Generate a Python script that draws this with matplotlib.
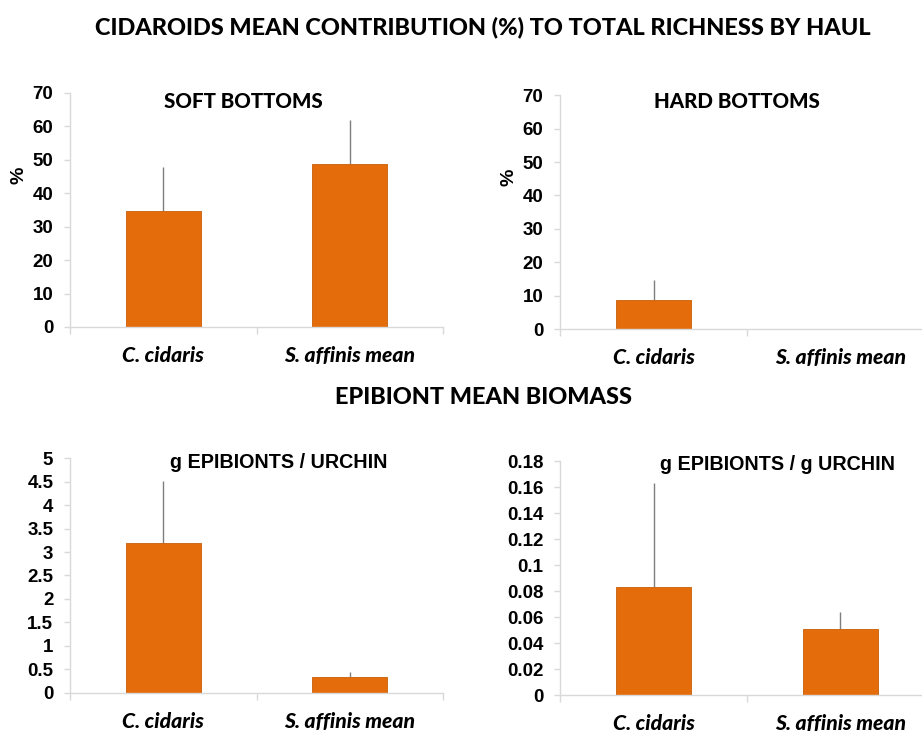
import matplotlib
matplotlib.use("Agg")
from matplotlib import pyplot as plt

# Species on the x axis of every panel
species = ["C. cidaris", "S. affinis mean"]

# Richness contribution (%) by haul, mean and upper error
soft_mean = [34.7, 48.7]
soft_err = [13.2, 13.3]
hard_mean = [8.8, 0.0]
hard_err = [5.8, 0.0]

# Epibiont biomass
urchin_mean = [3.19, 0.34]
urchin_err = [1.33, 0.095]
ratio_mean = [0.083, 0.051]
ratio_err = [0.080, 0.013]

BAR_COLOR = "#E46C0A"
AXIS_COLOR = "#d9d9d9"
ERR_COLOR = "#7f7f7f"
HEAVY = 900  # Lato Black where available

fig = plt.figure(figsize=(9.22, 7.31), dpi=100)


def panel(rect, means, errs, ymax, ystep, title, title_xy, ylabel=None, fmt=None):
    ax = fig.add_axes(rect)
    x = list(range(len(species)))
    ax.bar(x, means, width=0.4, color=BAR_COLOR, edgecolor="#c85e08", linewidth=0.6, zorder=2)
    # Error bars only go upward, no caps
    ax.errorbar(x, means, yerr=[[0] * len(errs), errs], fmt="none",
                ecolor=ERR_COLOR, elinewidth=1, capsize=0, zorder=1)
    ax.set_xlim(-0.5, 1.5)
    ax.set_ylim(0, ymax)
    n = int(round(ymax / ystep))
    ticks = [i * ystep for i in range(n + 1)]
    ax.set_yticks(ticks)
    if fmt:
        ax.set_yticklabels([fmt(t) for t in ticks])
    for lab in ax.get_yticklabels():
        lab.set_fontfamily("Liberation Sans")
        lab.set_fontweight("bold")
        lab.set_fontsize(13.5)
    ax.tick_params(axis="y", direction="out", length=4, width=1, color=AXIS_COLOR, pad=8)

    ax.set_xticks(x)
    ax.set_xticklabels(species, fontfamily="Lato", fontweight=HEAVY, fontstyle="italic", fontsize=15.2)
    ax.tick_params(axis="x", which="major", length=0, pad=14)
    ax.set_xticks([-0.5, 0.5, 1.5], minor=True)
    ax.tick_params(axis="x", which="minor", direction="out", length=5, width=1, color=AXIS_COLOR)

    for side in ["top", "right"]:
        ax.spines[side].set_visible(False)
    for side in ["left", "bottom"]:
        ax.spines[side].set_color(AXIS_COLOR)
        ax.spines[side].set_linewidth(1)

    fig.text(title_xy[0] / 922, 1 - title_xy[1] / 731, title, ha="center", va="center",
             fontfamily=title_xy[2], fontweight=title_xy[4], fontsize=title_xy[3])
    if ylabel:
        fig.text(rect[0] - 0.055, rect[1] + rect[3] * 0.65, ylabel, rotation=90,
                 ha="center", va="center", fontfamily="Liberation Sans",
                 fontweight="bold", fontsize=14)
    return ax


def plain(v):
    s = ("%.2f" % v).rstrip("0").rstrip(".")
    return s if s else "0"


panel([0.0759, 0.5527, 0.4046, 0.3201], soft_mean, soft_err, 70, 10,
      "SOFT BOTTOMS", (243, 101, "Lato", 14.8, HEAVY), ylabel="%")
panel([0.6074, 0.5499, 0.4056, 0.3197], hard_mean, hard_err, 70, 10,
      "HARD BOTTOMS", (737, 102, "Lato", 14.8, HEAVY), ylabel="%")
panel([0.0759, 0.0524, 0.4046, 0.3207], urchin_mean, urchin_err, 5, 0.5,
      "g EPIBIONTS / URCHIN", (279, 463, "Liberation Sans", 14.2, "bold"), fmt=plain)
panel([0.6074, 0.0492, 0.4056, 0.3201], ratio_mean, ratio_err, 0.18, 0.02,
      "g EPIBIONTS / g URCHIN", (777, 465, "Liberation Sans", 14.2, "bold"), fmt=plain)

fig.text(483 / 922, 1 - 27 / 731, "CIDAROIDS MEAN CONTRIBUTION (%) TO TOTAL RICHNESS BY HAUL",
         ha="center", va="center", fontfamily="Lato", fontweight=HEAVY, fontsize=16.9)
fig.text(483 / 922, 1 - 397 / 731, "EPIBIONT MEAN BIOMASS",
         ha="center", va="center", fontfamily="Lato", fontweight=HEAVY, fontsize=16.9)

fig.savefig("out.png", dpi=100)
